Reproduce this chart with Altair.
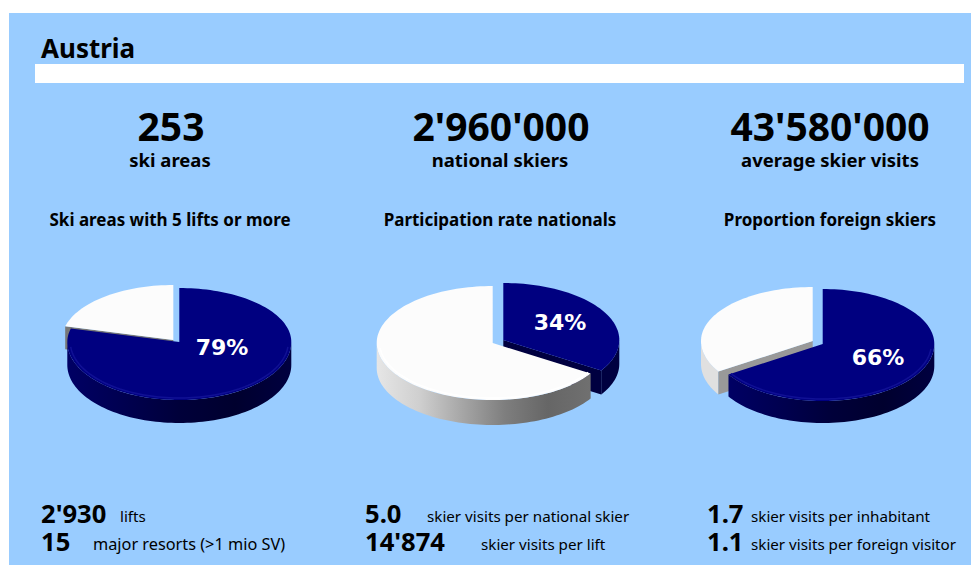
import math
import altair as alt
import pandas as pd

# ---- values
heading = "Austria"
headline_values = ["253", "2'960'000", "43'580'000"]
headline_labels = ["ski areas", "national skiers", "average skier visits"]
pie_titles = ["Ski areas with 5 lifts or more", "Participation rate nationals", "Proportion foreign skiers"]
pie_shares = [79, 34, 66]
foot_numbers = ["2'930", "15", "5.0", "14'874", "1.7", "1.1"]
foot_labels = ["lifts", "skier visits per national skier",
               "skier visits per lift", "skier visits per inhabitant", "skier visits per foreign visitor"]
foot_label_resorts = "major resorts (>1 mio SV)"

# ---- layout
W, H = 963, 557
X = alt.Scale(domain=[8, 8 + W], range=[0, W])
Y = alt.Scale(domain=[8, 8 + H], range=[0, H])
NAVY, WHITE = "#000080", "#FCFCFC"
BLUEBG = "#99CCFF"
FONT = "Noto Sans"


def grad(*stops):
    n = len(stops) - 1
    return alt.LinearGradient(gradient="linear", x1=0, x2=1, y1=0, y2=0,
                              stops=[alt.GradientStop(color=c, offset=i / n) for i, c in enumerate(stops)])


def pt(p, deg):
    a = math.radians(deg)
    c = math.cos(a)
    ry = p["ryt"] if c > 0 else p["ryb"]
    return p["cx"] + p["rx"] * math.sin(a), p["cy"] - ry * c


def arc(p, a1, a2):
    n = max(2, int(abs(a2 - a1) / 2))
    return [pt(p, a1 + (a2 - a1) * i / n) for i in range(n + 1)]


def enc():
    return dict(x=alt.X("x:Q", scale=X, axis=None), y=alt.Y("y:Q", scale=Y, axis=None))


def polygon(points, fill):
    df = pd.DataFrame(points, columns=["x", "y"])
    df["i"] = range(len(df))
    return alt.Chart(df).mark_line(fill=fill, strokeWidth=0, strokeOpacity=0, interpolate="linear", clip=False).encode(
        order="i:Q", **enc())


def top(p, a1, a2, fill):
    pts = [(p["cx"], p["cy"])] + arc(p, a1, a2) + [(p["cx"], p["cy"])]
    return polygon(pts, fill)


def wall(p, a1, a2, fill):
    a1, a2 = max(a1, 90), min(a2, 270)
    pts = arc(p, a1, a2)
    df = pd.DataFrame(pts, columns=["x", "y"])
    df["y2"] = df["y"] + p["h"]
    return alt.Chart(df).mark_area(fill=fill, strokeWidth=0).encode(y2="y2:Q", **enc())


def cut(p, deg, fill):
    tip = pt(p, deg)
    c = (p["cx"], p["cy"])
    h = p["h"]
    return polygon([c, tip, (tip[0], tip[1] + h), (c[0], c[1] + h), c], fill)


def rim(p, a1, a2, color):
    a1, a2 = max(a1, 95), min(a2, 265)
    inner = dict(p, rx=p["rx"] - 3, ryb=p["ryb"] - 2)
    df = pd.DataFrame(arc(inner, a1, a2), columns=["x", "y"])
    df["i"] = range(len(df))
    return alt.Chart(df).mark_line(color=color, strokeWidth=1.5).encode(order="i:Q", **enc())


NAVY_WALL = grad("#000064", "#000050", "#00003A", "#00002E", "#000040")
WHITE_WALL = grad("#E6E6E6", "#CFCFCF", "#A6A6A6", "#7E7E7E", "#666666", "#707070")

layers = []

# panel and heading band
panel = pd.DataFrame({"x": [9], "x2": [8 + W], "y": [13], "y2": [565]})
layers.append(alt.Chart(panel).mark_rect(color=BLUEBG).encode(x2="x2:Q", y2="y2:Q", **enc()))
band = pd.DataFrame({"x": [35], "x2": [964], "y": [64], "y2": [83]})
layers.append(alt.Chart(band).mark_rect(color="#FFFFFF").encode(x2="x2:Q", y2="y2:Q", **enc()))

# pie 1
share = pie_shares[0]
end = share * 3.6
n1 = dict(cx=179.3, cy=342, rx=112, ryt=54, ryb=58, h=23)
w1 = dict(cx=173.3, cy=340, rx=111.6, ryt=55, ryb=57, h=23)
layers += [cut(w1, end, "#777777"), top(w1, end, 360, WHITE),
           wall(n1, 0, end, NAVY_WALL), top(n1, 0, end, NAVY), rim(n1, 0, end, "#101095")]

# pie 2
share = pie_shares[1]
end = share * 3.6
n2 = dict(cx=503.3, cy=340, rx=116, ryt=57, ryb=57, h=24)
w2 = dict(cx=492.7, cy=343, rx=116, ryt=57, ryb=57, h=25)
layers += [cut(n2, end, "#000040"), wall(n2, 0, end, "#000040"), top(n2, 0, end, NAVY),
           wall(w2, end, 360, WHITE_WALL), top(w2, end, 360, WHITE), rim(w2, end, 360, "#FFFFFF")]

# pie 3
share = pie_shares[2]
end = share * 3.6
n3 = dict(cx=822.7, cy=344, rx=111.6, ryt=55, ryb=57, h=22)
w3 = dict(cx=812.7, cy=341, rx=111.7, ryt=54, ryb=57, h=23)
layers += [wall(w3, end, 360, "#E0E0E0"), cut(w3, end, "#999999"), top(w3, end, 360, WHITE),
           wall(n3, 0, end, NAVY_WALL), top(n3, 0, end, NAVY), rim(n3, 0, end, "#101095")]


def text(labels, xs, ys, size, bold=True, align="center", color="#000000", font=FONT):
    df = pd.DataFrame({"t": labels, "x": xs, "y": ys})
    return alt.Chart(df).mark_text(fontSize=size, font=font, fontWeight="bold" if bold else "normal",
                                   align=align, baseline="alphabetic", color=color).encode(text="t:N", **enc())


CENTERS = [171, 501, 830]
layers += [
    text([heading], [41], [58], 26, align="left"),
    text(headline_values, CENTERS, [141] * 3, 39),
    text(headline_labels, [170, 500, 830], [167] * 3, 18.5),
    text(pie_titles, [170, 500, 830], [226] * 3, 17),
    text([f"{s}%" for s in pie_shares], [222, 560, 878], [355, 330, 365], 22, color="#FFFFFF", font="DejaVu Sans"),
    text(foot_numbers, [41, 41, 365, 365, 707, 707], [523, 551, 523, 551, 523, 551], 25.6, align="left"),
    text(foot_labels, [120, 427, 481, 751, 751], [522, 522, 550, 522, 550], 15.2, bold=False, align="left"),
    text([foot_label_resorts], [93], [550], 16.3, bold=False, align="left"),
]

chart = alt.layer(*layers).properties(
    width=W, height=H, background="#FFFFFF", padding=0,
    autosize=alt.AutoSizeParams(type="none"),
).configure_view(stroke=None)

chart.save("out.html", embed_options={"renderer": "svg", "actions": False})
